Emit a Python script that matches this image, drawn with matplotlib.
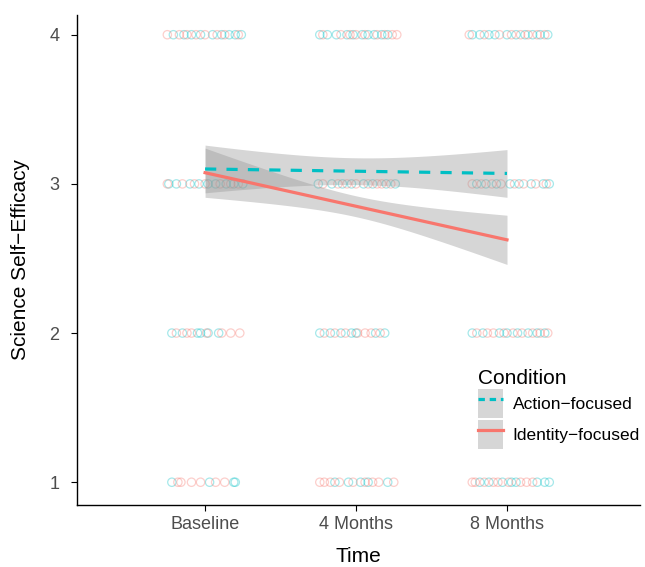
import numpy as np
import matplotlib.pyplot as plt
from matplotlib.patches import Patch
from matplotlib.lines import Line2D

plt.rcParams['font.family'] = ['Liberation Sans', 'DejaVu Sans']

times = ['Baseline', '4 Months', '8 Months']
conditions = ['Action\u2212focused', 'Identity\u2212focused']
teal = '#00BFC4'
salmon = '#F8766D'

# jittered responses: {score: x offsets from the tick}
base_action = {4: [-0.21, -0.14, -0.09, -0.03, 0.05, 0.11, 0.16, 0.20, 0.24],
               3: [-0.24, -0.19, -0.10, -0.04, 0.02, 0.07, 0.14, 0.19, 0.25],
               2: [-0.22, -0.15, -0.05, -0.03, 0.02, 0.09],
               1: [-0.22, 0.03, 0.19, 0.20]}
base_identity = {4: [-0.25, -0.17, -0.12, -0.06, 0.00, 0.08, 0.13, 0.22],
                 3: [-0.25, -0.15, -0.07, 0.00, 0.10, 0.17, 0.22],
                 2: [-0.19, -0.12, -0.09, 0.01, 0.11, 0.17, 0.23],
                 1: [-0.18, -0.16, -0.09, -0.03, 0.07, 0.13]}
m4_action = {4: [-0.24, -0.19, -0.13, -0.06, -0.02, 0.04, 0.08, 0.12, 0.17, 0.21],
             3: [-0.25, -0.16, -0.09, -0.03, 0.05, 0.11, 0.20, 0.26],
             2: [-0.24, -0.17, -0.10, -0.03, 0.00, 0.13, 0.19],
             1: [-0.14, -0.05, 0.03, 0.08, 0.21]}
m4_identity = {4: [-0.22, -0.10, -0.04, 0.00, 0.06, 0.14, 0.19, 0.24, 0.27],
               3: [-0.22, -0.12, -0.06, 0.00, 0.08, 0.14, 0.17, 0.23],
               2: [-0.21, -0.14, -0.07, 0.01, 0.06, 0.10, 0.16],
               1: [-0.24, -0.21, -0.17, -0.11, -0.02, 0.06, 0.11, 0.15, 0.25]}
m8_action = {4: [-0.23, -0.18, -0.12, -0.08, 0.00, 0.06, 0.12, 0.17, 0.22, 0.27],
             3: [-0.20, -0.14, -0.07, 0.02, 0.08, 0.16, 0.24, 0.28],
             2: [-0.23, -0.16, -0.05, 0.00, 0.07, 0.14, 0.20, 0.25],
             1: [-0.18, -0.12, -0.03, 0.03, 0.06, 0.20, 0.25, 0.28]}
m8_identity = {4: [-0.25, -0.15, -0.05, 0.03, 0.09, 0.14, 0.20, 0.25],
               3: [-0.23, -0.17, -0.10, -0.04, 0.05, 0.11, 0.19, 0.26],
               2: [-0.20, -0.13, -0.09, -0.02, 0.04, 0.10, 0.17, 0.22, 0.27],
               1: [-0.23, -0.21, -0.15, -0.09, -0.06, 0.01, 0.09, 0.13, 0.17]}

# linear fits: value at baseline / 8 months, CI half width at ends and middle
action_fit = [3.10, 3.07]
action_half = [0.16, 0.09]
identity_fit = [3.075, 2.625]
identity_half = [0.165, 0.07]

fig = plt.figure(figsize=(6.45, 5.67), dpi=100)
ax = fig.add_axes([0.119, 0.109, 0.873, 0.865])

groups = [(base_action, base_identity), (m4_action, m4_identity),
          (m8_action, m8_identity)]
for t, (ga, gi) in enumerate(groups):
    for g, col in [(ga, teal), (gi, salmon)]:
        for score, offs in g.items():
            xs = t + 1 + np.array(offs)
            ax.scatter(xs, np.full(len(xs), score), s=36, facecolors='none',
                       edgecolors=col, alpha=0.35, linewidths=0.9, zorder=2)

xx = np.linspace(1, 3, 100)
for fit, half, col, ls in [(identity_fit, identity_half, salmon, '-'),
                           (action_fit, action_half, teal, '--')]:
    yy = fit[0] + (fit[1] - fit[0]) * (xx - 1) / 2
    hw = np.sqrt(half[1] ** 2 + (half[0] ** 2 - half[1] ** 2) * (xx - 2) ** 2)
    ax.fill_between(xx, yy - hw, yy + hw, color='#999999', alpha=0.4,
                    linewidth=0, zorder=3)
    line, = ax.plot(xx, yy, color=col, lw=2.3, ls=ls, zorder=4)
    if ls == '--':
        line.set_dashes((3.5, 3.2))

ax.set_xlim(0.15, 3.88)
ax.set_ylim(0.846, 4.134)
ax.set_xticks([1, 2, 3])
ax.set_xticklabels(times)
ax.set_yticks([1, 2, 3, 4])
ax.tick_params(labelsize=13, labelcolor='#4D4D4D', length=4.5, width=0.8)
ax.tick_params(axis='y', pad=8)
for s in ['top', 'right']:
    ax.spines[s].set_visible(False)
for s in ['left', 'bottom']:
    ax.spines[s].set_linewidth(1.0)
ax.set_xlabel('Time', fontsize=15, labelpad=10)
ax.set_ylabel('Science Self\u2212Efficacy', fontsize=15, labelpad=14)

band = Patch(facecolor='#D6D6D6', edgecolor='none')
h_action = (band, Line2D([], [], color=teal, lw=2.3, dashes=(2, 1.5)))
h_identity = (band, Line2D([], [], color=salmon, lw=2.3))
leg = ax.legend([h_action, h_identity], conditions, title='Condition',
                loc='upper left', bbox_to_anchor=(0.685, 0.31), frameon=False,
                fontsize=12.5, title_fontsize=15, handlelength=1.45,
                handleheight=2.2, handletextpad=0.55, labelspacing=0.08)
leg._legend_box.align = 'left'

fig.savefig('out.png', dpi=100)
